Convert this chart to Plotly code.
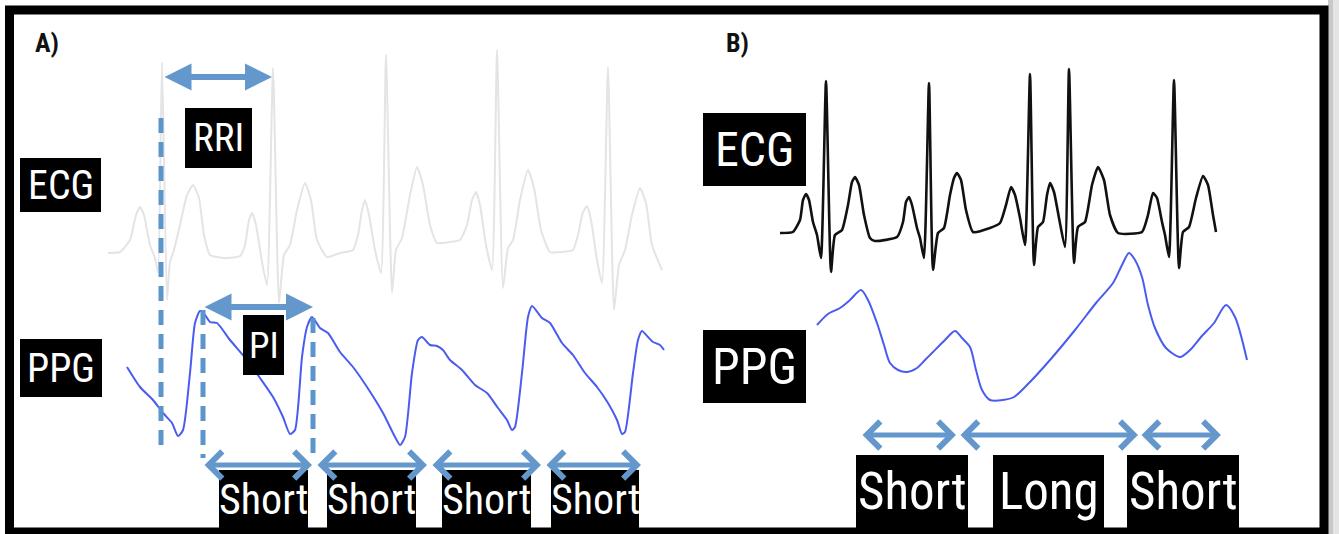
import plotly.graph_objects as go

# ---------------- data (pixel-like units) ----------------
# Panel A - ECG (faint grey)
ecg_a_x = [108,120,130,136,140,144,150,155,158,162,167,170,174,180,187,193,199,204,210,225,240,245,249,252,256,262,267,273,279,284,290,297,305,311,317,327,340,353,358,362,365,369,375,381,386,392,396,402,410,417,423,430,437,450,460,467,472,476,480,486,492,497,503,508,513,520,528,534,541,550,562,573,578,583,587,591,597,602,608,614,619,625,632,640,646,652,662]
ecg_a_y = [253,252,240,215,207,215,245,258,272,62,300,262,250,225,195,185,198,235,255,258,256,245,220,213,225,262,285,68,303,255,245,210,183,200,240,257,253,250,235,210,200,215,250,273,55,293,250,238,195,167,185,225,243,242,240,225,200,192,205,245,270,50,288,248,240,200,170,188,230,252,252,250,235,212,206,220,260,283,67,310,265,250,215,188,203,245,270]

# Panel A - PPG (blue)
ppg_a_x = [127,140,153,163,172,178,183,190,195,200,205,210,217,230,247,260,273,283,290,295,302,307,312,320,328,340,353,367,383,395,400,405,412,418,422,430,437,443,450,462,475,487,498,507,512,515,522,528,532,542,550,562,573,585,597,608,617,622,625,633,638,642,648,653,660,664]
ppg_a_y = [367,387,400,413,423,436,430,373,323,311,315,322,323,340,360,378,397,417,434,430,357,327,317,328,333,352,367,387,413,437,445,437,373,340,337,345,346,350,360,370,385,393,408,420,430,427,373,317,306,318,323,343,355,373,387,403,420,434,432,373,340,331,337,342,345,350]

# Panel B - ECG (black)
ecg_b_x = [780,793,800,803,806,809,813,817,821,826,831,835,842,848,852,855,859,864,870,875,897,903,906,909,912,917,920,924,929,933,938,944,950,954,957,961,966,973,990,1000,1006,1011,1015,1020,1025,1030,1034,1038,1043,1047,1050,1054,1059,1065,1069,1074,1078,1085,1092,1098,1104,1110,1118,1142,1148,1153,1157,1162,1165,1169,1174,1179,1183,1189,1196,1203,1208,1213,1216]
ecg_b_y = [233,232,220,200,194,200,222,235,258,81,272,235,230,205,182,177,185,215,238,241,237,222,202,197,205,228,238,258,83,270,233,228,195,178,173,180,210,232,228,223,205,187,195,218,245,74,265,227,222,195,183,192,218,247,69,263,227,222,185,167,180,215,233,232,215,193,198,222,235,257,80,268,232,227,198,176,185,215,232]

# Panel B - PPG (blue)
ppg_b_x = [817,828,840,850,861,868,877,884,890,898,907,917,925,932,945,955,962,970,976,982,990,1003,1014,1029,1050,1075,1096,1113,1122,1129,1135,1142,1148,1155,1166,1180,1190,1201,1214,1226,1235,1247]
ppg_b_y = [325,314,308,300,290,300,323,345,363,370,372,368,360,353,340,331,338,347,370,390,400,400,397,383,360,330,303,283,265,253,260,277,305,328,348,357,350,337,323,305,317,360]

# Dashed markers (panel A)
dash_x = [161, 203, 313]
dash_top = [118, 310, 318]
dash_bottom = [452, 458, 460]

# Interval arrows: start, end, level
arrow_filled_x0 = [163, 203]
arrow_filled_x1 = [272, 313]
arrow_filled_y = [77, 307]
arrow_open_x0 = [203, 316, 431, 545, 861, 959, 1140]
arrow_open_x1 = [312, 427, 541, 641, 956, 1138, 1221]
arrow_open_y = [465, 465, 465, 465, 435, 435, 435]

# Black labels
label_text = ["ECG", "PPG", "RRI", "PI", "Short", "Short", "Short", "Short",
              "ECG", "PPG", "Short", "Long", "Short"]
label_x0 = [20, 20, 185, 243, 219, 327, 442, 551, 703, 703, 856, 993, 1127]
label_x1 = [101, 102, 252, 284, 308, 416, 531, 639, 806, 806, 968, 1104, 1239]
label_y0 = [158, 339, 108, 315, 470, 470, 470, 470, 113, 330, 455, 455, 455]
label_y1 = [212, 397, 168, 375, 528, 528, 528, 528, 186, 403, 528, 528, 528]
label_size = [40, 40, 39, 37, 42, 42, 42, 42, 48, 50, 51, 51, 51]

panel_text = ["A)", "B)"]
panel_x = [47, 737]
panel_y = [43, 43]

# ---------------- styling ----------------
W, H = 1339, 534
FONT = "Liberation Sans Narrow, Arial Narrow, Roboto Condensed, Liberation Sans, Arial, sans-serif"
ARROW_BLUE = "#6497cc"
PPG_BLUE = "#4a5cf0"

fig = go.Figure()

fig.add_trace(go.Scatter(x=ecg_a_x, y=ecg_a_y, mode="lines",
                         line=dict(color="#e4e4e4", width=2, shape="spline", smoothing=0.5),
                         hoverinfo="skip", showlegend=False))
fig.add_trace(go.Scatter(x=ecg_b_x, y=ecg_b_y, mode="lines",
                         line=dict(color="#111111", width=2.6, shape="spline", smoothing=0.5),
                         hoverinfo="skip", showlegend=False))
fig.add_trace(go.Scatter(x=ppg_a_x, y=ppg_a_y, mode="lines",
                         line=dict(color=PPG_BLUE, width=2, shape="spline", smoothing=0.6),
                         hoverinfo="skip", showlegend=False))
fig.add_trace(go.Scatter(x=ppg_b_x, y=ppg_b_y, mode="lines",
                         line=dict(color=PPG_BLUE, width=2, shape="spline", smoothing=0.8),
                         hoverinfo="skip", showlegend=False))

dx, dy = [], []
for xv, t, b in zip(dash_x, dash_top, dash_bottom):
    dx += [xv, xv, None]
    dy += [t, b, None]
fig.add_trace(go.Scatter(x=dx, y=dy, mode="lines",
                         line=dict(color="#5b95cc", width=5, dash="15px,9px"),
                         hoverinfo="skip", showlegend=False))

shapes = []
annotations = []

# black label boxes + text
for t, x0, x1, y0, y1, fs in zip(label_text, label_x0, label_x1, label_y0, label_y1, label_size):
    shapes.append(dict(type="rect", xref="x", yref="y", x0=x0, x1=x1, y0=y0, y1=y1,
                       fillcolor="black", line=dict(width=0), layer="above"))
    annotations.append(dict(text=t, x=(x0 + x1) / 2, y=(y0 + y1) / 2, xref="x", yref="y",
                            showarrow=False, xanchor="center", yanchor="middle",
                            font=dict(family=FONT, size=fs, color="white")))

for t, xv, yv in zip(panel_text, panel_x, panel_y):
    annotations.append(dict(text="<b>" + t + "</b>", x=xv, y=yv, xref="x", yref="y",
                            showarrow=False, font=dict(family=FONT, size=26, color="#111")))

# arrows
for x0, x1, yv in zip(arrow_filled_x0, arrow_filled_x1, arrow_filled_y):
    annotations.append(dict(text="", x=x1, y=yv, ax=x0, ay=yv, xref="x", yref="y",
                            axref="x", ayref="y", showarrow=True, arrowside="end+start",
                            arrowhead=2, startarrowhead=2, arrowsize=0.9, startarrowsize=0.9,
                            arrowwidth=6, arrowcolor=ARROW_BLUE, standoff=0, startstandoff=0))
for x0, x1, yv in zip(arrow_open_x0, arrow_open_x1, arrow_open_y):
    annotations.append(dict(text="", x=x1, y=yv, ax=x0, ay=yv, xref="x", yref="y",
                            axref="x", ayref="y", showarrow=True, arrowside="end+start",
                            arrowhead=4, startarrowhead=4, arrowsize=1.05, startarrowsize=1.05,
                            arrowwidth=5, arrowcolor=ARROW_BLUE, standoff=0, startstandoff=0))

# outer frame and right shadow
shapes.append(dict(type="rect", xref="x", yref="y", x0=1328, x1=1339, y0=0, y1=H,
                   fillcolor="#c8c8c8", line=dict(width=0), layer="below"))
shapes.append(dict(type="rect", xref="x", yref="y", x0=1333, x1=1339, y0=0, y1=H,
                   fillcolor="#e4e4e4", line=dict(width=0), layer="below"))
shapes.append(dict(type="rect", xref="x", yref="y", x0=9.5, x1=1324, y0=10, y1=532,
                   fillcolor="rgba(0,0,0,0)", line=dict(color="black", width=9), layer="above"))

fig.update_layout(
    width=W, height=H, margin=dict(l=0, r=0, t=0, b=0),
    paper_bgcolor="white", plot_bgcolor="white",
    xaxis=dict(range=[0, W], visible=False, fixedrange=True),
    yaxis=dict(range=[H, 0], visible=False, fixedrange=True),
    shapes=shapes, annotations=annotations, showlegend=False,
)

fig.write_html("out.html", config={"displayModeBar": False},
               post_script="document.body.style.margin='0';document.body.style.overflow='hidden';")
